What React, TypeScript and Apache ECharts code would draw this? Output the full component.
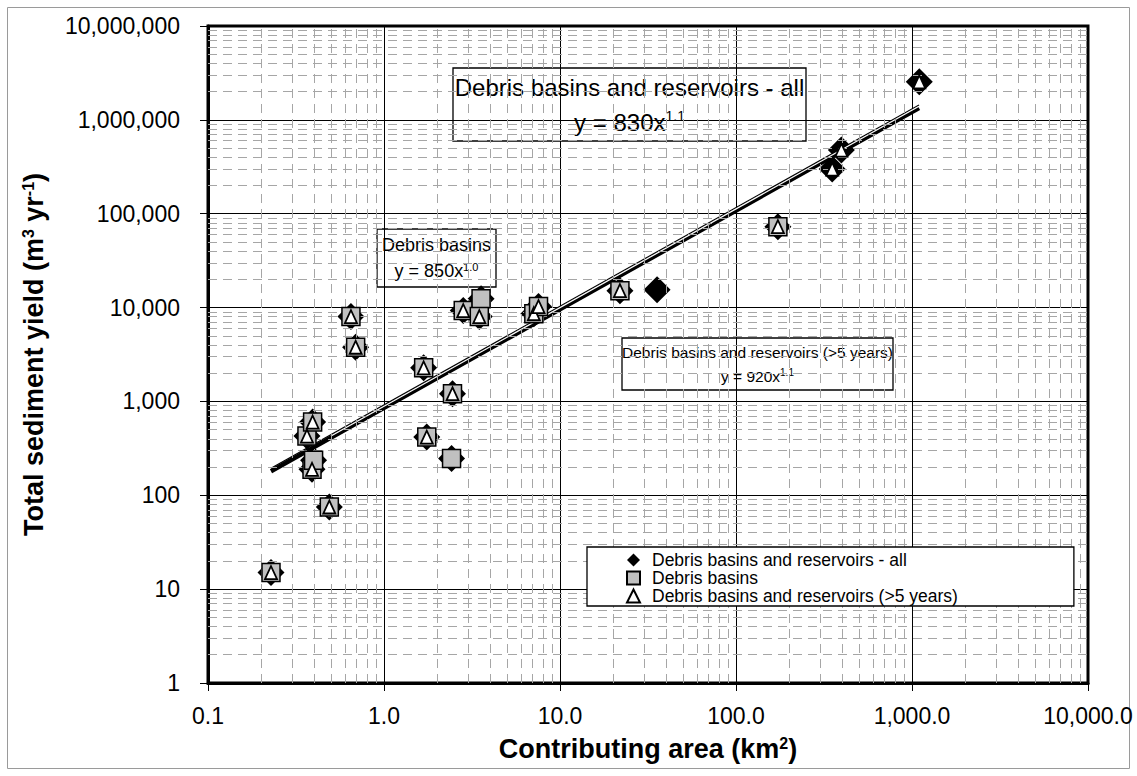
import React, { useEffect, useRef } from "react";
import * as echarts from "echarts";

const FONT = 'Arial, "Liberation Sans", Helvetica, sans-serif';

// Debris basins and reservoirs - all (black diamonds)
const allArea = [0.228, 0.489, 0.39, 0.398, 0.365, 0.393, 0.649, 0.69, 1.68, 1.75, 2.42, 2.45, 2.82, 3.56, 3.48, 7.1, 7.55, 21.9, 35.6, 173, 352, 397, 1100];
const allYield = [15, 75, 189, 236, 427, 602, 8020, 3780, 2280, 417, 246, 1208, 9290, 12380, 8020, 8600, 10250, 15150, 15500, 72800, 299000, 476000, 2540000];

// Debris basins (grey squares)
const basinArea = [0.228, 0.489, 0.39, 0.398, 0.365, 0.393, 0.649, 0.69, 1.68, 1.75, 2.42, 2.45, 2.82, 3.56, 3.48, 7.1, 7.55, 21.9, 173];
const basinYield = [15, 75, 189, 236, 427, 602, 8020, 3780, 2280, 417, 246, 1208, 9290, 12380, 8020, 8600, 10250, 15150, 72800];

// Debris basins and reservoirs (>5 years) (white triangles)
const fiveArea = [0.228, 0.489, 0.39, 0.365, 0.393, 0.649, 0.69, 1.68, 1.75, 2.45, 2.82, 3.48, 7.1, 7.55, 21.9, 173, 352, 397, 1100];
const fiveYield = [15, 75, 189, 427, 602, 8020, 3780, 2280, 417, 1208, 9290, 8020, 8600, 10250, 15150, 72800, 299000, 476000, 2540000];

// Power-law trend lines (end points)
const trendAllX = [0.228, 1096];
const trendAllY = [180, 1340000];
const trendFiveX = [0.5, 1096];
const trendFiveY = [428, 1395000];
const trendBasinX = [0.228, 1096];
const trendBasinY = [194, 1442000];

// Axis ticks
const xTickLabels = ["0.1", "1.0", "10.0", "100.0", "1,000.0", "10,000.0"];
const yTickLabels = ["1", "10", "100", "1,000", "10,000", "100,000", "1,000,000", "10,000,000"];
const xDecades = [0.1, 1, 10, 100, 1000];
const yDecades = [1, 10, 100, 1000, 10000, 100000, 1000000];
const minorMultipliers = [2, 3, 4, 5, 6, 7, 8, 9];

const seriesNames = [
  "Debris basins and reservoirs - all",
  "Debris basins",
  "Debris basins and reservoirs (>5 years)",
];

const zip = (xs: number[], ys: number[]) => xs.map((x, i) => [x, ys[i]]);

function annotation(
  x: number,
  y: number,
  w: number,
  h: number,
  text: string,
  fontSize: number,
  lineHeight: number,
  supSize: number,
  supPad: number
) {
  return {
    type: "group",
    z: 100,
    children: [
      {
        type: "rect",
        shape: { x, y, width: w, height: h },
        style: { fill: "#fff", stroke: "#000", lineWidth: 1.3 },
      },
      {
        type: "text",
        x: x + w / 2,
        y: y + h / 2,
        style: {
          text,
          fill: "#000",
          fontSize,
          fontFamily: FONT,
          align: "center",
          verticalAlign: "middle",
          lineHeight,
          rich: {
            sup: { fontSize: supSize, fontFamily: FONT, fill: "#000", padding: [0, 0, supPad, 0], lineHeight },
          },
        },
      },
    ],
  };
}

export default function App() {
  const ref = useRef<HTMLDivElement>(null);

  useEffect(() => {
    if (!ref.current) return;
    const chart = echarts.init(ref.current, undefined, { renderer: "svg" });

    const minorX: number[] = [];
    xDecades.forEach((d) => minorMultipliers.forEach((m) => minorX.push(d * m)));
    const minorY: number[] = [];
    yDecades.forEach((d) => minorMultipliers.forEach((m) => minorY.push(d * m)));

    const labelFor = (labels: string[], base: number) => (v: number) => {
      const i = Math.round(Math.log10(v) - base);
      return labels[i] ?? "";
    };

    const option: any = {
      animation: false,
      backgroundColor: "#fff",
      textStyle: { fontFamily: FONT },
      grid: {
        left: 208,
        right: 49,
        top: 26,
        bottom: 93,
        show: true,
        borderColor: "#000",
        borderWidth: 3,
        backgroundColor: "transparent",
      },
      legend: {
        data: seriesNames,
        orient: "vertical",
        left: 587,
        top: 547,
        padding: [4, 116, 1, 39],
        itemGap: 0,
        itemWidth: 13,
        itemHeight: 13,
        selectedMode: false,
        backgroundColor: "#fff",
        borderColor: "#000",
        borderWidth: 1.3,
        z: 120,
        textStyle: { fontSize: 17.5, fontFamily: FONT, color: "#000", padding: [0, 0, 0, 7] },
      },
      xAxis: {
        type: "log",
        logBase: 10,
        min: 0.1,
        max: 10000,
        splitNumber: 5,
        name: "Contributing area (km{sup|2})",
        nameLocation: "middle",
        nameGap: 52,
        nameTextStyle: {
          fontSize: 27,
          fontWeight: "bold",
          fontFamily: FONT,
          color: "#000",
          rich: { sup: { fontSize: 16, fontWeight: "bold", fontFamily: FONT, color: "#000", padding: [0, 0, 12, 0] } },
        },
        axisLine: { show: true, onZero: false, lineStyle: { color: "#000", width: 3 } },
        axisTick: { show: true, length: 8, lineStyle: { color: "#000", width: 1 } },
        axisLabel: {
          fontSize: 23,
          color: "#000",
          fontFamily: FONT,
          margin: 21,
          formatter: labelFor(xTickLabels, -1),
        },
        splitLine: { show: true, lineStyle: { color: "#000", width: 1 } },
        minorTick: { show: false },
        minorSplitLine: { show: false },
      },
      yAxis: {
        type: "log",
        logBase: 10,
        min: 1,
        max: 10000000,
        splitNumber: 7,
        name: "Total sediment yield (m{sup|3} yr{sup|-1})",
        nameLocation: "middle",
        nameGap: 160,
        nameRotate: 90,
        nameTextStyle: {
          fontSize: 27,
          fontWeight: "bold",
          fontFamily: FONT,
          color: "#000",
          rich: { sup: { fontSize: 16, fontWeight: "bold", fontFamily: FONT, color: "#000", padding: [0, 0, 12, 0] } },
        },
        axisLine: { show: true, onZero: false, lineStyle: { color: "#000", width: 3 } },
        axisTick: { show: true, length: 8, lineStyle: { color: "#000", width: 1 } },
        axisLabel: {
          fontSize: 23,
          color: "#000",
          fontFamily: FONT,
          margin: 28,
          formatter: labelFor(yTickLabels, 0),
        },
        splitLine: { show: true, lineStyle: { color: "#000", width: 1 } },
      },
      graphic: [
        {
          type: "rect",
          z: -10,
          shape: { x: 7.5, y: 7.5, width: 1122, height: 761 },
          style: { fill: "none", stroke: "#9a9a9a", lineWidth: 1 },
        },
        annotation(453, 68, 353, 73, "Debris basins and reservoirs - all\ny = 830x{sup|1.1}", 24, 35, 14, 12),
        annotation(377, 229, 119, 58, "Debris basins\ny = 850x{sup|1.0}", 18, 26, 11, 9),
        annotation(622, 338, 271, 52, "Debris basins and reservoirs (>5 years)\ny = 920x{sup|1.1}", 15.5, 24, 10, 8),
      ],
      series: [
        {
          name: "minor-grid",
          type: "scatter",
          data: [],
          silent: true,
          z: 1,
          markLine: {
            silent: true,
            symbol: ["none", "none"],
            label: { show: false },
            animation: false,
            lineStyle: { color: "#a6a6a6", width: 1, type: [9, 6] },
            data: [
              ...minorX.map((v) => ({ xAxis: v })),
              ...minorY.map((v) => ({ yAxis: v })),
            ],
          },
        },
        {
          name: seriesNames[0],
          type: "scatter",
          data: zip(allArea, allYield),
          symbol: "diamond",
          symbolSize: 27,
          itemStyle: { color: "#000", borderColor: "#000", borderWidth: 0, opacity: 1 },
          z: 3,
        },
        {
          name: "trend-basin",
          type: "line",
          data: zip(trendBasinX, trendBasinY),
          showSymbol: false,
          symbol: "none",
          lineStyle: { color: "#000", width: 1.2 },
          z: 4,
          silent: true,
        },
        {
          name: "trend-all",
          type: "line",
          data: zip(trendAllX, trendAllY),
          showSymbol: false,
          symbol: "none",
          lineStyle: { color: "#000", width: 4.5 },
          z: 4,
          silent: true,
        },
        {
          name: "trend-five",
          type: "line",
          data: zip(trendFiveX, trendFiveY),
          showSymbol: false,
          symbol: "none",
          lineStyle: { color: "#fff", width: 1.2 },
          z: 4,
          silent: true,
        },
        {
          name: seriesNames[1],
          type: "scatter",
          data: zip(basinArea, basinYield),
          symbol: "rect",
          symbolSize: 18,
          itemStyle: { color: "#c0c0c0", borderColor: "#000", borderWidth: 1.5, opacity: 1 },
          z: 5,
        },
        {
          name: seriesNames[2],
          type: "scatter",
          data: zip(fiveArea, fiveYield),
          symbol: "triangle",
          symbolSize: [12, 13],
          itemStyle: { color: "#fff", borderColor: "#000", borderWidth: 1.8, opacity: 1 },
          z: 6,
        },
      ],
    };

    chart.setOption(option);
    return () => chart.dispose();
  }, []);

  return (
    <div
      ref={ref}
      style={{ position: "fixed", left: 0, top: 0, width: 1137, height: 776, background: "#fff" }}
    />
  );
}
